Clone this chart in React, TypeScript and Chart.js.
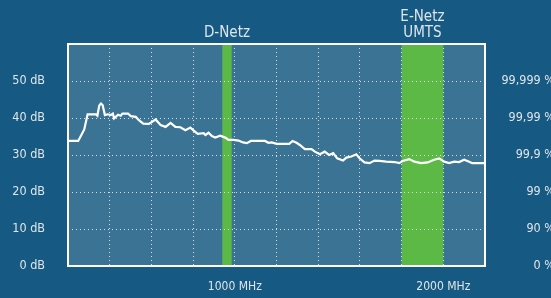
import { useEffect, useRef } from "react";
import { Chart, registerables } from "chart.js";

Chart.register(...registerables);

// Frequency (MHz) and level (dB) samples
const freqMHz = [200, 249, 278, 294, 334, 341, 350, 358, 366, 377, 391, 405, 415, 421, 440, 453, 461, 488, 501, 525, 540, 561, 588, 620, 644, 668, 692, 715, 739, 763, 787, 803, 822, 851, 859, 874, 890, 906, 930, 954, 970, 994, 1018, 1039, 1058, 1077, 1113, 1145, 1161, 1177, 1201, 1261, 1277, 1296, 1312, 1336, 1368, 1384, 1408, 1431, 1452, 1472, 1491, 1519, 1535, 1559, 1583, 1598, 1622, 1646, 1670, 1694, 1726, 1766, 1789, 1805, 1837, 1861, 1893, 1925, 1956, 1980, 2004, 2028, 2052, 2076, 2100, 2124, 2139, 2200];
const levelDb = [33.8, 33.8, 36.9, 41.0, 41.0, 40.6, 43.4, 43.9, 43.5, 40.8, 41.0, 40.8, 41.2, 39.9, 40.9, 40.6, 41.2, 41.2, 40.5, 40.3, 39.4, 38.5, 38.4, 39.6, 38.1, 37.6, 38.7, 37.6, 37.5, 36.7, 37.4, 36.6, 35.7, 35.9, 35.4, 36.0, 35.1, 34.7, 35.2, 34.7, 34.1, 34.1, 33.9, 33.4, 33.2, 33.8, 33.8, 33.8, 33.3, 33.4, 33.0, 33.0, 33.8, 33.3, 32.7, 31.6, 31.6, 30.9, 30.2, 30.9, 30.0, 30.5, 29.1, 28.5, 29.3, 29.6, 30.2, 29.1, 28.0, 27.8, 28.5, 28.4, 28.2, 28.1, 27.8, 28.4, 28.9, 28.2, 27.8, 28.0, 28.7, 29.1, 28.2, 27.8, 28.2, 28.1, 28.7, 28.2, 27.8, 27.8];

// Frequency bands (MHz) and their labels
const bandStarts = [940, 1800];
const bandEnds = [985, 2000];
const bandLabels = [["D-Netz"], ["E-Netz", "UMTS"]];

// Tick labels
const xLabelValues = [1000, 2000];
const xLabelTexts = ["1000 MHz", "2000 MHz"];
const leftTickLabels = ["0 dB", "10 dB", "20 dB", "30 dB", "40 dB", "50 dB"];
const rightTickLabels = ["0 %", "90 %", "99 %", "99,9 %", "99,99 %", "99,999 %"];

const PAGE_BG = "#165a83";
const PLOT_BG = "#3a7394";
const GREEN = "#5db946";
const TEXT = "#dfe5ea";
const GRID = "rgba(235,242,248,0.85)";
const FONT = "'DejaVu Sans Condensed', 'DejaVu Sans', sans-serif";

const CANVAS_W = 555;
const CANVAS_H = 298;

const decorPlugin = {
  id: "decor",
  beforeDraw(chart: any) {
    const { ctx, chartArea: a, scales } = chart;
    const x = scales.x;
    ctx.save();
    ctx.fillStyle = PAGE_BG;
    ctx.fillRect(0, 0, chart.width, chart.height);
    ctx.fillStyle = PLOT_BG;
    ctx.fillRect(a.left, a.top, a.right - a.left, a.bottom - a.top);
    ctx.fillStyle = GREEN;
    for (let i = 0; i < bandStarts.length; i++) {
      const x1 = x.getPixelForValue(bandStarts[i]);
      const x2 = x.getPixelForValue(bandEnds[i]);
      ctx.fillRect(x1, a.top, x2 - x1, a.bottom - a.top);
    }
    ctx.restore();
  },
  afterDraw(chart: any) {
    const { ctx, chartArea: a, scales } = chart;
    const x = scales.x;
    ctx.save();
    ctx.strokeStyle = "#ffffff";
    ctx.lineWidth = 2;
    ctx.strokeRect(a.left, a.top, a.right - a.left, a.bottom - a.top);
    ctx.fillStyle = TEXT;
    ctx.font = `15px ${FONT}`;
    ctx.textAlign = "center";
    ctx.textBaseline = "alphabetic";
    for (let i = 0; i < bandStarts.length; i++) {
      const cx = (x.getPixelForValue(bandStarts[i]) + x.getPixelForValue(bandEnds[i])) / 2;
      const lines = bandLabels[i];
      const baseY = a.top - 7;
      for (let j = 0; j < lines.length; j++) {
        ctx.fillText(lines[j], cx, baseY - (lines.length - 1 - j) * 16.3);
      }
    }
    ctx.restore();
  },
};

export default function App() {
  const ref = useRef<HTMLCanvasElement>(null);
  useEffect(() => {
    if (!ref.current) return;
    const chart = new Chart(ref.current, {
      type: "line",
      data: {
        datasets: [
          {
            data: freqMHz.map((f, i) => ({ x: f, y: levelDb[i] })),
            borderColor: "#ffffff",
            borderWidth: 2.2,
            pointRadius: 0,
            tension: 0,
            yAxisID: "y",
          },
        ],
      },
      options: {
        animation: false,
        responsive: false,
        events: [],
        layout: { padding: { top: 44, left: 0, right: 0, bottom: 0 } },
        plugins: { legend: { display: false }, tooltip: { enabled: false } },
        scales: {
          x: {
            type: "linear",
            min: 200,
            max: 2200,
            afterFit: (s: any) => {
              s.height = 32;
            },
            ticks: {
              stepSize: 200,
              autoSkip: false,
              maxRotation: 0,
              color: TEXT,
              font: { family: FONT, size: 12 },
              padding: 10,
              callback: (v: any) => {
                const k = xLabelValues.indexOf(Number(v));
                return k >= 0 ? xLabelTexts[k] : "";
              },
            },
            grid: {
              color: GRID,
              lineWidth: 1,
              tickLength: 4,
              tickColor: (c: any) => (c.tick && xLabelValues.includes(c.tick.value) ? GRID : "rgba(0,0,0,0)"),
              tickBorderDash: [1, 3],
            },
            border: { display: false, dash: [1, 3] },
          },
          y: {
            type: "linear",
            position: "left",
            min: 0,
            max: 60,
            afterFit: (s: any) => {
              s.width = 68;
            },
            ticks: {
              stepSize: 10,
              color: TEXT,
              font: { family: FONT, size: 12.5 },
              padding: 23,
              callback: (v: any) => leftTickLabels[Number(v) / 10] ?? "",
            },
            grid: { color: GRID, lineWidth: 1, drawTicks: false },
            border: { display: false, dash: [1, 3] },
          },
          y2: {
            type: "linear",
            position: "right",
            min: 0,
            max: 60,
            afterFit: (s: any) => {
              s.width = CANVAS_W - 485;
            },
            ticks: {
              stepSize: 10,
              color: TEXT,
              font: { family: FONT, size: 12.5 },
              padding: 10,
              crossAlign: "far",
              callback: (v: any) => rightTickLabels[Number(v) / 10] ?? "",
            },
            grid: { display: false, drawTicks: false },
            border: { display: false },
          },
        },
      },
      plugins: [decorPlugin],
    } as any);
    return () => chart.destroy();
  }, []);
  return (
    <div style={{ position: "fixed", left: 0, top: 0, width: 551, height: 298, overflow: "hidden", background: PAGE_BG }}>
      <canvas ref={ref} width={CANVAS_W} height={CANVAS_H} style={{ width: CANVAS_W, height: CANVAS_H, display: "block" }} />
    </div>
  );
}
